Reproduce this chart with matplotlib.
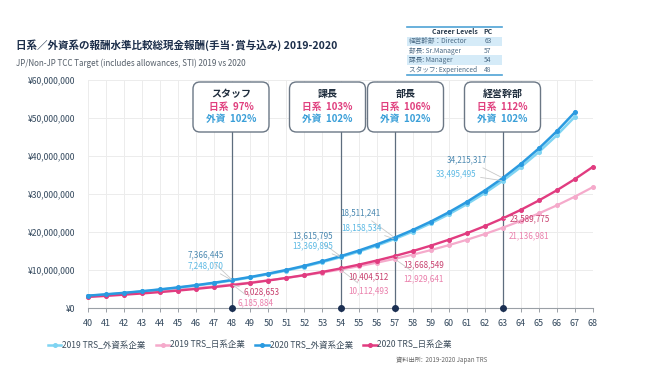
import matplotlib
matplotlib.use('Agg')
import matplotlib.pyplot as plt
from matplotlib.patches import FancyBboxPatch, Rectangle
from matplotlib.lines import Line2D
from matplotlib.ticker import FuncFormatter, MultipleLocator

plt.rcParams['font.family'] = ['Noto Sans CJK JP', 'DejaVu Sans']

# ---------------- data ----------------
ages_foreign = list(range(40, 68))
ages_japan = list(range(40, 69))

foreign_2019 = [3200000, 3540000, 3930000, 4350000, 4820000, 5340000, 5920000, 6550000,
                7248070, 8030000, 8890000, 9850000, 10910000, 12080000, 13369895,
                14810000, 16400000, 18158534, 20110000, 22270000, 24660000, 27310000,
                30250000, 33495495, 37090000, 41070000, 45480000, 50360000]
foreign_2020 = [3250000, 3600000, 3990000, 4420000, 4900000, 5430000, 6010000, 6660000,
                7366445, 8160000, 9040000, 10020000, 11100000, 12290000, 13615795,
                15090000, 16710000, 18511241, 20510000, 22730000, 25180000, 27900000,
                30910000, 34215317, 37910000, 42000000, 46540000, 51560000]
japan_2019 = [3210000, 3490000, 3790000, 4110000, 4460000, 4840000, 5250000, 5700000,
              6185884, 6710000, 7290000, 7910000, 8580000, 9320000, 10112493,
              10970000, 11910000, 12929641, 14030000, 15230000, 16530000, 17940000,
              19470000, 21136981, 22940000, 24900000, 27020000, 29330000, 31830000]
japan_2020 = [2910000, 3190000, 3500000, 3830000, 4190000, 4590000, 5030000, 5510000,
              6028653, 6600000, 7230000, 7920000, 8670000, 9500000, 10404512,
              11390000, 12480000, 13668549, 14970000, 16400000, 17960000, 19670000,
              21540000, 23589775, 25840000, 28300000, 30990000, 33940000, 37170000]

series_names = ['2019 TRS_外資系企業', '2019 TRS_日系企業', '2020 TRS_外資系企業', '2020 TRS_日系企業']

level_names = ['スタッフ', '課長', '部長', '経営幹部']
level_ages = [48, 54, 57, 63]
jp_ratio = ['97%', '103%', '106%', '112%']
fx_ratio = ['102%', '102%', '102%', '102%']

table_header = ('Career Levels', 'PC')
table_rows = [('経営幹部：Director', '63'), ('部長: Sr.Manager', '57'),
              ('課長: Manager', '54'), ('スタッフ: Experienced', '48')]

title = '日系／外資系の報酬水準比較総現金報酬(手当･賞与込み) 2019-2020'
subtitle = 'JP/Non-JP TCC Target (includes allowances, STI) 2019 vs 2020'
source = '資料出所:  2019-2020 Japan TRS'

# ---------------- style ----------------
c_f19 = '#7fd4f2'
c_j19 = '#f5aacb'
c_f20 = '#2a9ae0'
c_j20 = '#e13c80'
lab_f20 = '#4a88b0'
lab_f19 = '#5cb9e4'
lab_j20 = '#c8406e'
lab_j19 = '#ea7eab'
tick_col = '#34495e'

fig = plt.figure(figsize=(6.5, 3.73), dpi=100)
ax = fig.add_axes([88/650, 1-308/373, (593-88)/650, (308-80)/373])

ax.set_xlim(40, 68)
ax.set_ylim(0, 60000000)
ax.xaxis.set_major_locator(MultipleLocator(1))
ax.yaxis.set_major_locator(MultipleLocator(10000000))
ax.yaxis.set_major_formatter(FuncFormatter(lambda v, p: f'¥{int(v):,}'))
ax.grid(True, color='#ececec', linewidth=0.7, zorder=0)
for s in ['top', 'right', 'left']:
    ax.spines[s].set_visible(False)
ax.spines['bottom'].set_color('#9aa0a6')
ax.spines['bottom'].set_linewidth(0.8)
ax.tick_params(axis='y', length=0, pad=9, labelsize=6.2, labelcolor=tick_col)
ax.tick_params(axis='x', length=3, width=0.7, color='#9aa0a6', pad=5,
               labelsize=6.5, labelcolor=tick_col)

# lines
ax.plot(ages_japan, japan_2019, color=c_j19, lw=1.6, marker='o', ms=2.6, zorder=3, clip_on=False)
ax.plot(ages_foreign, foreign_2019, color=c_f19, lw=1.8, marker='o', ms=2.6, zorder=3, clip_on=False)
ax.plot(ages_japan, japan_2020, color=c_j20, lw=1.7, marker='o', ms=2.6, zorder=4, clip_on=False)
ax.plot(ages_foreign, foreign_2020, color=c_f20, lw=1.8, marker='o', ms=2.6, zorder=4, clip_on=False)

# level vertical lines with dots
box_bottom_frac = (308-132)/(308-80)
for a in level_ages:
    ax.axvline(a, ymin=0, ymax=box_bottom_frac, color='#5d6d7e', lw=0.9, zorder=2)
    ax.plot([a], [0], 'o', color='#1b2f52', ms=4, zorder=6, clip_on=False)

# value labels (offset in points from data point)
offsets = {
    'f20': [(-6, 18), (-5.5, 15), (-10, 18), (-11, 13)],
    'f19': [(-6, 10.5), (-5.5, 8), (-9, 8), (-19, 5)],
    'j20': [(8, -4.5), (5.5, -6), (6, -6), (5, 0)],
    'j19': [(4, -13), (5.5, -15.5), (6, -14.5), (4.5, -5.5)],
}
def label_series(key, ages, vals, color, ha):
    for (dx, dy), a in zip(offsets[key], level_ages):
        v = vals[ages.index(a)]
        ax.annotate(f'{v:,}', xy=(a, v), xytext=(dx, dy), textcoords='offset points',
                    ha=ha, va='center', fontsize=5.8, color=color, zorder=7,
                    arrowprops=dict(arrowstyle='-', color='#c8c8c8', lw=0.6,
                                    shrinkA=1, shrinkB=1))

label_series('f20', ages_foreign, foreign_2020, lab_f20, 'right')
label_series('f19', ages_foreign, foreign_2019, lab_f19, 'right')
label_series('j20', ages_japan, japan_2020, lab_j20, 'left')
label_series('j19', ages_japan, japan_2019, lab_j19, 'left')

# callout boxes (inches from figure bottom-left)
box_centers_px = [231, 327.5, 405.5, 502.5]
bw, bh = 0.76, 0.50
for cx, name, jr, fr in zip(box_centers_px, level_names, jp_ratio, fx_ratio):
    x0 = cx/100 - bw/2
    y0 = (373-132)/100
    p = FancyBboxPatch((x0, y0), bw, bh, boxstyle='round,pad=0,rounding_size=0.07',
                       transform=fig.dpi_scale_trans, facecolor='white',
                       edgecolor='#6b7785', lw=1.0, zorder=10)
    fig.patches.append(p)
    fig.text(cx/650, 1-94/373, name, ha='center', va='center', fontsize=7.2,
             fontweight='bold', color='#1f2d3d', zorder=11)
    fig.text(cx/650, 1-106.5/373, f'日系  {jr}', ha='center', va='center', fontsize=7,
             fontweight='bold', color='#e0407f', zorder=11)
    fig.text(cx/650, 1-119/373, f'外資  {fr}', ha='center', va='center', fontsize=7,
             fontweight='bold', color='#3a9fd8', zorder=11)

# title & subtitle
fig.text(16/650, 1-45/373, title, ha='left', va='center', fontsize=7.6,
         fontweight='bold', color='#1c2e4a')
fig.text(16/650, 1-63/373, subtitle, ha='left', va='center', fontsize=5.8, color='#555f6a')

# career levels table
tx0, tx1 = 407/650, 502/650
row_h = 9.5/373
top = 1-27/373
fig.add_artist(Line2D([tx0, tx1], [top, top], color='#4fa3d6', lw=1.2))
fig.text(455/650, top-row_h/2, table_header[0], ha='center', va='center', fontsize=5,
         fontweight='bold', color='#2c3e50')
fig.text(488/650, top-row_h/2, table_header[1], ha='center', va='center', fontsize=5,
         fontweight='bold', color='#2c3e50')
for i, (lab, pc) in enumerate(table_rows):
    yt = top - row_h*(i+1)
    if i % 2 == 0:
        fig.add_artist(Rectangle((tx0, yt-row_h), tx1-tx0, row_h, transform=fig.transFigure,
                                 facecolor='#d5ebf8', edgecolor='none'))
    fig.text(409/650, yt-row_h/2, lab, ha='left', va='center', fontsize=4.8, color='#4a6a85')
    fig.text(488/650, yt-row_h/2, pc, ha='center', va='center', fontsize=4.8, color='#4a6a85')
bot = top - row_h*5
fig.add_artist(Line2D([tx0, tx1], [bot, bot], color='#4fa3d6', lw=1.2))

# legend
handles = [Line2D([], [], color=c, lw=1.8, marker='o', ms=2.6)
           for c in [c_f19, c_j19, c_f20, c_j20]]
fig.legend(handles, series_names, loc='center', bbox_to_anchor=(250/650, 1-345/373),
           ncol=4, frameon=False, fontsize=6.1, handlelength=1.6, handletextpad=0.1,
           columnspacing=1.2, labelcolor='#3d4d5c')

fig.text(487/650, 1-360/373, source, ha='right', va='center', fontsize=4.5, color='#666666')

fig.savefig('out.png', dpi=100)
